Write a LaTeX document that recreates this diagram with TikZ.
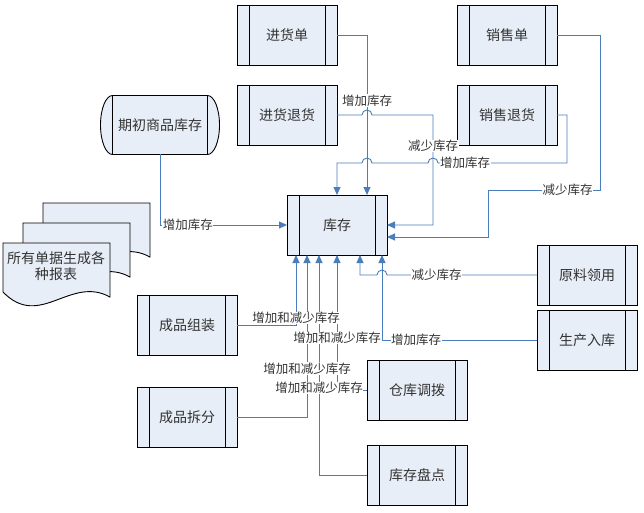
\documentclass[tikz,border=0pt]{standalone}
\usepackage{fontspec}
\setmainfont{Noto Sans CJK SC}
\usepackage{tikz}
\usetikzlibrary{arrows.meta,positioning,backgrounds}
\definecolor{boxfill}{HTML}{E8EEF7}
\definecolor{linkblue}{HTML}{4A7EBB}
\definecolor{inkgray}{HTML}{333333}

\begin{document}
\begin{tikzpicture}[x=1pt,y=-1pt,
  every node/.style={align=center,text=inkgray},
  proc/.style={draw,fill=boxfill,line width=0.9pt,minimum width=100pt,minimum height=60pt,
    inner sep=0pt,outer sep=0pt,font=\fontsize{14}{16}\selectfont,
    path picture={\draw[line width=0.9pt]
      ([xshift=12pt]path picture bounding box.north west) -- ([xshift=12pt]path picture bounding box.south west)
      ([xshift=-12pt]path picture bounding box.north east) -- ([xshift=-12pt]path picture bounding box.south east);}},
  docshape/.style={draw,fill=boxfill,line width=0.9pt},
  link/.style={-{Triangle[length=8pt,width=7pt]},line width=0.9pt,color=linkblue},
  lbl/.style={fill=white,inner sep=0.5pt,font=\fontsize{12.5}{14}\selectfont}]
  \useasboundingbox (0,0) rectangle (644,513);

  % process boxes
  \node[proc] (kc) at (337,225) {库存};
  \node[proc] (jhd) at (287,35) {进货单};
  \node[proc,below=20pt of jhd] (jhth) {进货退货};
  \node[proc] (xsd) at (507,35) {销售单};
  \node[proc,below=20pt of xsd] (xsth) {销售退货};
  \node[proc] (ylly) at (587,275) {原料领用};
  \node[proc,below=5pt of ylly] (scrk) {生产入库};
  \node[proc] (cpzz) at (187,325) {成品组装};
  \node[proc,below=32pt of cpzz] (cpcf) {成品拆分};
  \node[proc] (ckdb) at (417,390) {仓库调拨};
  \node[proc,below=25pt of ckdb] (kcpd) {库存盘点};

  % stored data
  \node[minimum width=95pt,minimum height=59pt,inner sep=0pt,outer sep=0pt,
    font=\fontsize{14}{16}\selectfont] (qc) at (160,125) {期初商品库存};
  \begin{scope}[on background layer]
    \draw[docshape] (qc.north west) arc[start angle=90,end angle=270,x radius=12pt,y radius=29.5pt]
      -- (qc.south east) arc[start angle=-90,end angle=90,x radius=12pt,y radius=29.5pt] -- cycle;
    \draw[line width=0.9pt] (qc.north west) -- (qc.south west) (qc.north east) -- (qc.south east);
  \end{scope}

  % report pages
  \foreach \d in {40,20,0}
    \draw[docshape] ({3+\d},{243-\d}) -- ({110+\d},{243-\d}) -- ({110+\d},{297-\d})
      .. controls ({70+\d},{275-\d}) and ({40+\d},{330-\d}) .. ({3+\d},{292-\d}) -- cycle;
  \node[font=\fontsize{14}{16}\selectfont] (docs) at (56,266) {所有单据生成各\\种报表};

  % connectors
  \draw[link] (jhd.east) -- (367,35) -- coordinate[pos=0.41] (l1) ([xshift=30pt]kc.north);
  \draw[link] (jhth.east) -- (362,115) arc[start angle=180,end angle=0,radius=5pt]
    -- (433,115) -- coordinate[pos=0.28] (l2) (433,225) -- (kc.east);
  \draw[link] (xsth.east) -- (567,115) -- (567,163) -- coordinate[pos=0.79] (l3) (438,163)
    arc[start angle=0,end angle=180,radius=5pt] -- (372,163)
    arc[start angle=0,end angle=180,radius=5pt] -- (337,163) -- (kc.north);
  \draw[link] (xsd.east) -- (600,35) -- (600,190) -- coordinate[pos=0.29] (l4) (488,190)
    -- (488,237) -- ([yshift=-12pt]kc.east);
  \draw[link] (qc.south) -- (160,225) -- coordinate[pos=0.22] (l5) (kc.west);
  \draw[link] (ylly.west) -- coordinate[pos=0.67] (l6) (387,275)
    arc[start angle=0,end angle=180,radius=5pt] -- (360,275) -- ([xshift=23pt]kc.south);
  \draw[link] (scrk.west) -- coordinate[pos=0.78] (l7) (382,340) -- ([xshift=45pt]kc.south);
  \draw[link] (cpzz.east) -- (296,325) -- coordinate[pos=0.1] (l8) ([xshift=-41pt]kc.south);
  \draw[link] (cpcf.east) -- (307,417) -- coordinate[pos=0.3] (l9) ([xshift=-30pt]kc.south);
  \draw[link] (ckdb.west) -- (337,390) -- coordinate[pos=0.385] (l10) (kc.south);
  \draw[link] (kcpd.west) -- (319,475) -- coordinate[pos=0.395] (l11) ([xshift=-18pt]kc.south);

  % labels on top
  \node[lbl] (t1) at (l1) {增加库存};
  \node[lbl] (t2) at (l2) {减少库存};
  \node[lbl] (t3) at (l3) {增加库存};
  \node[lbl] (t4) at (l4) {减少库存};
  \node[lbl] (t5) at (l5) {增加库存};
  \node[lbl] (t6) at (l6) {减少库存};
  \node[lbl] (t7) at (l7) {增加库存};
  \node[lbl] (t8) at (l8) {增加和减少库存};
  \node[lbl] (t10) at (l10) {增加和减少库存};
  \node[lbl] (t9) at (l9) {增加和减少库存};
  \node[lbl] (t11) at (l11) {增加和减少库存};
\end{tikzpicture}
\end{document}
